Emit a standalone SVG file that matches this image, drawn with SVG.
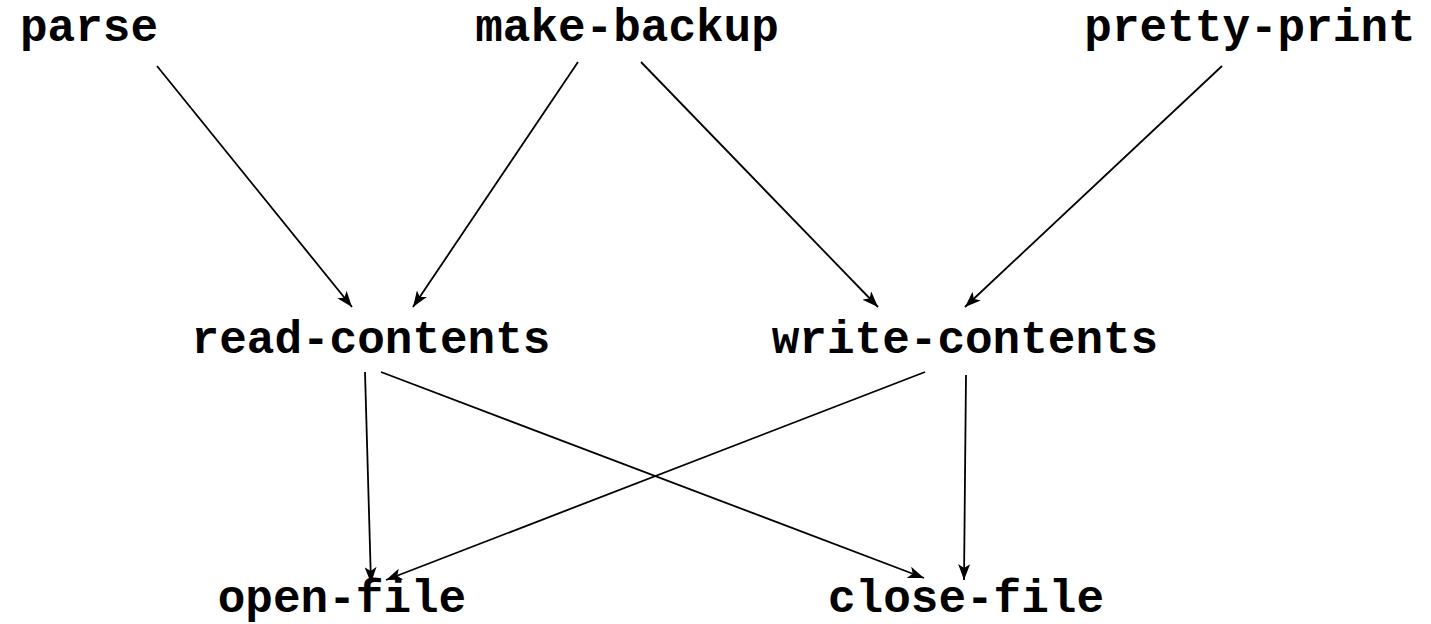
<svg xmlns="http://www.w3.org/2000/svg" width="1431" height="624" viewBox="0 0 1431 624">
  <style>
    .label { font-family: "Liberation Mono", "Courier New", monospace; font-weight: bold; font-size: 46px; fill: #000; text-anchor: middle; }
    .edge { stroke: #000; stroke-width: 1.8; fill: none; marker-end: url(#arrow); }
  </style>
  <defs>
    <marker id="arrow" viewBox="0 0 16 12" refX="16" refY="6" markerWidth="16" markerHeight="12" markerUnits="userSpaceOnUse" orient="auto">
      <path d="M0,0 L16,6 L0,12 L4,6 Z" fill="#000"/>
    </marker>
  </defs>
  <rect width="1431" height="624" fill="#fff"/>
  <g id="connectors">
    <line class="edge" x1="157" y1="66" x2="352" y2="307"/>
    <line class="edge" x1="578" y1="62" x2="413" y2="307"/>
    <line class="edge" x1="641" y1="62" x2="878" y2="307"/>
    <line class="edge" x1="1222" y1="66" x2="965" y2="307"/>
    <line class="edge" x1="365" y1="372" x2="371" y2="583"/>
    <line class="edge" x1="381" y1="372" x2="924" y2="578"/>
    <line class="edge" x1="925" y1="372" x2="386" y2="580"/>
    <line class="edge" x1="966" y1="375" x2="964" y2="580"/>
  </g>
  <g id="parse"><text class="label" x="89" y="41">parse</text></g>
  <g id="make-backup"><text class="label" x="627" y="41">make-backup</text></g>
  <g id="pretty-print"><text class="label" x="1250" y="41">pretty-print</text></g>
  <g id="read-contents"><text class="label" x="371" y="353">read-contents</text></g>
  <g id="write-contents"><text class="label" x="965" y="353">write-contents</text></g>
  <g id="open-file"><text class="label" x="342" y="612">open-file</text></g>
  <g id="close-file"><text class="label" x="966" y="612">close-file</text></g>
</svg>
